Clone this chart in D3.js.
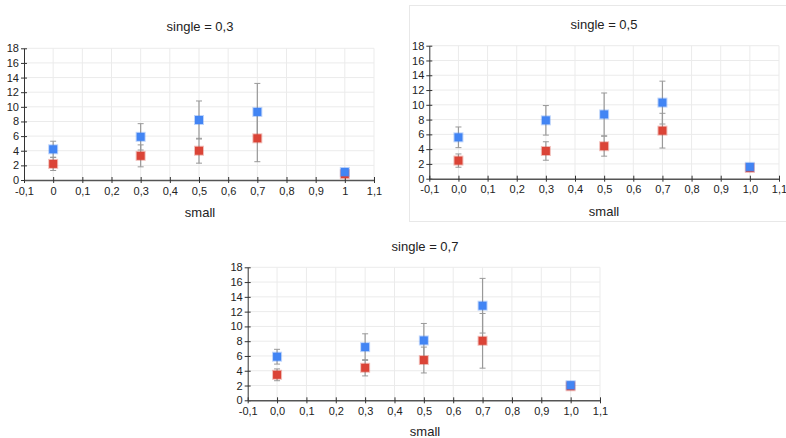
<!DOCTYPE html>
<html lang="en">
<head>
<meta charset="utf-8">
<title>single vs small</title>
<script src="https://cdnjs.cloudflare.com/ajax/libs/d3/7.8.5/d3.min.js"></script>
<style>
  html, body { margin: 0; padding: 0; background: #fff; }
  body { font-family: "Liberation Sans", Arial, sans-serif; }
</style>
</head>
<body>
<script>
// x positions ("small") shared by every panel
let smallValues = [0, 0.3, 0.5, 0.7, 1.0];
let xTicks = [-0.1, 0, 0.1, 0.2, 0.3, 0.4, 0.5, 0.6, 0.7, 0.8, 0.9, 1.0, 1.1];
let yTicks = [0, 2, 4, 6, 8, 10, 12, 14, 16, 18];

let panelTitles = ["single = 0,3", "single = 0,5", "single = 0,7"];

// blue series (upper) and red series (lower), means and error half widths
let blue03 = [4.2, 5.9, 8.2, 9.3, 1.1];
let blueErr03 = [1.1, 1.8, 2.6, 3.9, 0.15];
let red03 = [2.2, 3.3, 4.0, 5.7, 0.8];
let redErr03 = [0.9, 1.5, 1.7, 3.2, 0.1];

let blue05 = [5.6, 7.9, 8.7, 10.3, 1.6];
let blueErr05 = [1.4, 2.0, 2.9, 2.9, 0.2];
let red05 = [2.45, 3.75, 4.4, 6.5, 1.45];
let redErr05 = [0.9, 1.25, 1.35, 2.35, 0.15];

let blue07 = [5.9, 7.2, 8.1, 12.8, 2.05];
let blueErr07 = [1.0, 1.8, 2.3, 3.7, 0.3];
let red07 = [3.45, 4.4, 5.45, 8.05, 1.9];
let redErr07 = [0.8, 1.1, 1.75, 3.7, 0.2];

let w = 786;
let h = 438;
let blueColor = "#4285f4";
let redColor = "#db4437";

let svg = d3.select("body")
  .append("svg")
  .attr("width", w)
  .attr("height", h);

// frame around the second panel
svg.append("rect")
  .attr("x", 409.5)
  .attr("y", 5.5)
  .attr("width", 400)
  .attr("height", 216)
  .attr("fill", "none")
  .attr("stroke", "#e8e8e8");

let panels = [
  { title: panelTitles[0], left: 24, right: 374, top: 48.3, bottom: 180, cx: 200, titleY: 26, labelY: 212,
    blue: blue03, blueErr: blueErr03, red: red03, redErr: redErr03, fmt: d3.format(".1~f") },
  { title: panelTitles[1], left: 429.3, right: 779, top: 45.7, bottom: 178.7, cx: 604, titleY: 24, labelY: 211,
    blue: blue05, blueErr: blueErr05, red: red05, redErr: redErr05, fmt: d3.format(".1f") },
  { title: panelTitles[2], left: 247.7, right: 600, top: 267.3, bottom: 400.3, cx: 425, titleY: 245.7, labelY: 431,
    blue: blue07, blueErr: blueErr07, red: red07, redErr: redErr07, fmt: d3.format(".1f") }
];

panels.forEach(function(p) {
  let g = svg.append("g");

  let xScale = d3.scaleLinear().domain([-0.1, 1.1]).range([p.left, p.right]);
  let yScale = d3.scaleLinear().domain([0, 18]).range([p.bottom, p.top]);

  // grid
  g.selectAll(".vgrid")
    .data(xTicks.slice(1))
    .enter()
    .append("line")
    .attr("x1", d => xScale(d)).attr("x2", d => xScale(d))
    .attr("y1", p.top).attr("y2", p.bottom)
    .attr("stroke", "#ebebeb");

  g.selectAll(".hgrid")
    .data(yTicks.slice(1))
    .enter()
    .append("line")
    .attr("x1", p.left).attr("x2", p.right)
    .attr("y1", d => yScale(d)).attr("y2", d => yScale(d))
    .attr("stroke", "#ebebeb");

  // title and axis label
  g.append("text")
    .text(p.title)
    .attr("x", p.cx)
    .attr("y", p.titleY + 5)
    .attr("text-anchor", "middle")
    .attr("font-size", "13px")
    .attr("fill", "#222");

  g.append("text")
    .text("small")
    .attr("x", p.cx)
    .attr("y", p.labelY + 4.5)
    .attr("text-anchor", "middle")
    .attr("font-size", "13px")
    .attr("fill", "#222");

  // axes
  let yAxis = d3.axisLeft(yScale).tickValues(yTicks).tickSizeInner(3).tickSizeOuter(0).tickPadding(2);
  let yg = g.append("g").attr("transform", "translate(" + p.left + ",0)").call(yAxis);
  yg.select(".domain").attr("stroke", "#333");
  yg.selectAll(".tick line").attr("x2", 3).attr("x1", -3).attr("stroke", "#333");
  yg.selectAll(".tick text").attr("font-size", "11px").attr("font-family", "Liberation Sans, Arial, sans-serif").attr("fill", "#222");

  let xAxis = d3.axisBottom(xScale).tickValues(xTicks)
    .tickFormat(d => p.fmt(d).replace("\u2212", "-").replace(".", ","))
    .tickSizeInner(3).tickSizeOuter(0).tickPadding(4);
  let xg = g.append("g").attr("transform", "translate(0," + p.bottom + ")").call(xAxis);
  xg.select(".domain").attr("stroke", "#555").attr("stroke-width", 1.5);
  xg.selectAll(".tick line").attr("y1", -3).attr("y2", 3).attr("stroke", "#333");
  xg.selectAll(".tick text").attr("font-size", "11px").attr("font-family", "Liberation Sans, Arial, sans-serif").attr("fill", "#222");

  // error bars
  let series = [
    { means: p.blue, errs: p.blueErr, color: blueColor },
    { means: p.red, errs: p.redErr, color: redColor }
  ];

  series.forEach(function(s) {
    let pts = smallValues.map((x, i) => ({ x: x, y: s.means[i], e: s.errs[i] }));
    let eg = g.append("g");
    eg.selectAll(".bar")
      .data(pts).enter().append("line")
      .attr("x1", d => xScale(d.x)).attr("x2", d => xScale(d.x))
      .attr("y1", d => yScale(d.y - d.e)).attr("y2", d => yScale(d.y + d.e))
      .attr("stroke", "#999").attr("stroke-width", 1.2);
    eg.selectAll(".capTop")
      .data(pts).enter().append("line")
      .attr("x1", d => xScale(d.x) - 3).attr("x2", d => xScale(d.x) + 3)
      .attr("y1", d => yScale(d.y + d.e)).attr("y2", d => yScale(d.y + d.e))
      .attr("stroke", "#999");
    eg.selectAll(".capBottom")
      .data(pts).enter().append("line")
      .attr("x1", d => xScale(d.x) - 3).attr("x2", d => xScale(d.x) + 3)
      .attr("y1", d => yScale(d.y - d.e)).attr("y2", d => yScale(d.y - d.e))
      .attr("stroke", "#999");
  });

  // markers, red under blue
  [series[1], series[0]].forEach(function(s) {
    g.selectAll(null)
      .data(smallValues.map((x, i) => ({ x: x, y: s.means[i] })))
      .enter()
      .append("rect")
      .attr("x", d => xScale(d.x) - 4)
      .attr("y", d => yScale(d.y) - 4)
      .attr("width", 8)
      .attr("height", 8)
      .attr("fill", s.color)
      .attr("stroke", s.color)
      .attr("stroke-opacity", 0.35)
      .attr("stroke-width", 2);
  });
});
</script>
</body>
</html>
